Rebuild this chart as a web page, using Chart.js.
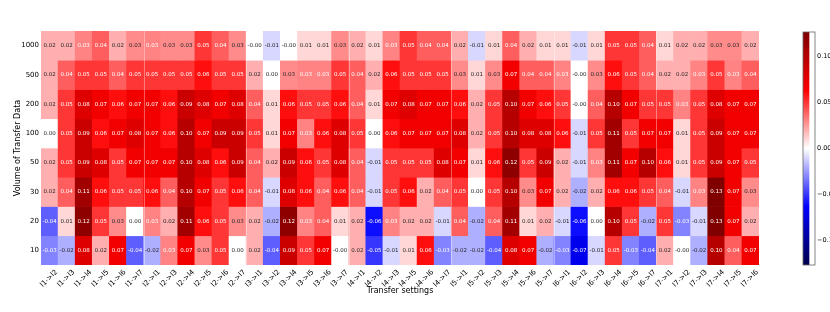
<!DOCTYPE html>
<html><head><meta charset="utf-8">
<script src="https://cdn.jsdelivr.net/npm/chart.js@4/dist/chart.umd.min.js"></script>
<style>
html,body{margin:0;padding:0;background:#fff;overflow:hidden;width:830px;height:312px;}
#main{position:absolute;left:0;top:0;}
#cbar{position:absolute;left:790px;top:0;}
</style></head><body>
<canvas id="main" width="830" height="312"></canvas>
<canvas id="cbar" width="60" height="312"></canvas>
<script>
const rowLabels = ['1000','500','200','100','50','30','20','10'];
const colLabels = [
 'l1->l2','l1->l3','l1->l4','l1->l5','l1->l6','l1->l7',
 'l2->l1','l2->l3','l2->l4','l2->l5','l2->l6','l2->l7',
 'l3->l1','l3->l2','l3->l4','l3->l5','l3->l6','l3->l7',
 'l4->l1','l4->l2','l4->l3','l4->l5','l4->l6','l4->l7',
 'l5->l1','l5->l2','l5->l3','l5->l4','l5->l6','l5->l7',
 'l6->l1','l6->l2','l6->l3','l6->l4','l6->l5','l6->l7',
 'l7->l1','l7->l2','l7->l3','l7->l4','l7->l5','l7->l6'];

const v1000 = [0.02,0.02,0.031,0.04,0.02,0.029, 0.031,0.029,0.029,0.05,0.04,0.029, -0.00,-0.01,-0.00,0.01,0.01,0.029, 0.02,0.01,0.031,0.05,0.04,0.04, 0.02,-0.01,0.01,0.04,0.02,0.01, 0.01,-0.01,0.01,0.05,0.05,0.04, 0.01,0.02,0.02,0.029,0.029,0.02];
const v500  = [0.02,0.04,0.05,0.05,0.04,0.05, 0.05,0.05,0.05,0.06,0.05,0.05, 0.02,0.00,0.029,0.031,0.031,0.05, 0.04,0.02,0.06,0.05,0.05,0.05, 0.029,0.01,0.029,0.07,0.04,0.04, 0.031,-0.00,0.029,0.06,0.05,0.04, 0.02,0.02,0.031,0.05,0.031,0.04];
const v200  = [0.02,0.05,0.08,0.07,0.06,0.07, 0.07,0.06,0.09,0.08,0.07,0.08, 0.04,0.01,0.06,0.05,0.05,0.06, 0.04,0.01,0.07,0.08,0.07,0.07, 0.06,0.02,0.05,0.10,0.07,0.06, 0.05,-0.00,0.04,0.10,0.07,0.05, 0.05,0.031,0.05,0.08,0.07,0.07];
const v100  = [0.00,0.05,0.09,0.06,0.07,0.08, 0.07,0.06,0.10,0.07,0.09,0.09, 0.05,0.01,0.07,0.031,0.06,0.08, 0.05,0.00,0.06,0.07,0.07,0.07, 0.08,0.02,0.05,0.10,0.08,0.08, 0.06,-0.01,0.05,0.11,0.05,0.07, 0.07,0.01,0.05,0.09,0.07,0.07];
const v50   = [0.02,0.05,0.09,0.08,0.05,0.07, 0.07,0.07,0.10,0.08,0.06,0.09, 0.04,0.02,0.09,0.06,0.05,0.08, 0.04,-0.01,0.05,0.05,0.05,0.08, 0.07,0.01,0.06,0.12,0.05,0.09, 0.02,-0.01,0.031,0.11,0.07,0.10, 0.06,0.01,0.05,0.09,0.07,0.05];
const v30   = [0.02,0.04,0.11,0.06,0.05,0.05, 0.06,0.04,0.10,0.07,0.05,0.06, 0.04,-0.01,0.08,0.06,0.04,0.06, 0.04,-0.01,0.05,0.06,0.02,0.04, 0.05,0.00,0.05,0.10,0.029,0.07, 0.02,-0.02,0.02,0.06,0.06,0.05, 0.04,-0.01,0.031,0.13,0.07,0.029];
const v20   = [-0.04,0.01,0.12,0.05,0.029,0.00, 0.031,0.02,0.11,0.06,0.05,0.029, 0.02,-0.02,0.12,0.031,0.04,0.01, 0.02,-0.06,0.031,0.02,0.02,-0.01, 0.04,-0.02,0.04,0.11,0.01,0.02, -0.01,-0.06,0.00,0.10,0.05,-0.02, 0.05,-0.031,-0.01,0.13,0.07,0.02];
const v10   = [-0.031,-0.02,0.08,0.02,0.07,-0.04, -0.02,0.031,0.07,0.029,0.05,0.00, 0.02,-0.04,0.09,0.05,0.07,-0.00, 0.02,-0.05,-0.01,0.01,0.06,-0.031, -0.02,-0.02,-0.04,0.08,0.07,-0.02, -0.031,-0.07,-0.01,0.05,-0.031,-0.04, 0.02,-0.00,-0.02,0.10,0.04,0.07];

const rowValues = [v1000, v500, v200, v100, v50, v30, v20, v10];
const vLimit = 0.127;
const cbarTicks = [-0.10, -0.05, 0.00, 0.05, 0.10];
const groupSize = 6;

Chart.defaults.font.family = 'DejaVu Sans';
Chart.defaults.color = '#000';

function seismic(t){
  const s=[[0,0,0,0.3],[0.25,0,0,1],[0.5,1,1,1],[0.75,1,0,0],[1,0.5,0,0]];
  t=Math.max(0,Math.min(1,t));
  for(let i=0;i<4;i++){
    const a=s[i],b=s[i+1];
    if(t<=b[0]){
      const f=(t-a[0])/(b[0]-a[0]);
      return [a[1]+(b[1]-a[1])*f, a[2]+(b[2]-a[2])*f, a[3]+(b[3]-a[3])*f];
    }
  }
  return [0.5,0,0];
}
function toCss(c){return 'rgb('+c.map(x=>Math.round(x*255)).join(',')+')';}
function colorFor(v){return seismic(0.5+v/(2*vLimit));}
function lum(c){
  const l=c.map(x=> x<=0.03928 ? x/12.92 : Math.pow((x+0.055)/1.055,2.4));
  return 0.2126*l[0]+0.7152*l[1]+0.0722*l[2];
}

const nRows = rowLabels.length;
const datasets = rowValues.map((vals,r)=>({
  label: rowLabels[r],
  data: vals.map(()=>[nRows-1-r, nRows-r]),
  vals: vals,
  backgroundColor: vals.map(v=>toCss(colorFor(v))),
  borderWidth: 0,
  barPercentage: 1,
  categoryPercentage: 1,
  grouped: false
}));

const annot = {
  id:'annot',
  afterDatasetsDraw(chart){
    const ctx=chart.ctx;
    ctx.save();
    const xs=chart.scales.x, ca=chart.chartArea;
    ctx.strokeStyle='rgba(255,255,255,0.35)';
    ctx.lineWidth=1;
    for(let g=groupSize; g<colLabels.length; g+=groupSize){
      const px=Math.round((xs.getPixelForValue(g-1)+xs.getPixelForValue(g))/2)+0.5;
      ctx.beginPath();ctx.moveTo(px,ca.top);ctx.lineTo(px,ca.bottom);ctx.stroke();
    }
    ctx.font='5.5px "DejaVu Sans"';
    ctx.textAlign='center';ctx.textBaseline='middle';
    chart.data.datasets.forEach((ds,di)=>{
      const meta=chart.getDatasetMeta(di);
      meta.data.forEach((el,i)=>{
        const v=ds.vals[i];
        const p=el.getProps(['x','y','base'],true);
        const cy=(p.y+p.base)/2;
        ctx.fillStyle = lum(colorFor(v))>0.408 ? 'rgb(38,38,38)' : '#fff';
        let s=v.toFixed(2);
        if(Object.is(v,-0)) s='-0.00';
        ctx.fillText(s, p.x, cy);
      });
    });
    ctx.restore();
  }
};

new Chart(document.getElementById('main'),{
  type:'bar',
  data:{labels:colLabels, datasets},
  options:{
    responsive:false, animation:false, devicePixelRatio:1,
    layout:{padding:{top:31,right:71,left:13,bottom:16}},
    plugins:{legend:{display:false},tooltip:{enabled:false}},
    scales:{
      x:{
        type:'category',
        grid:{display:false,drawTicks:false},
        border:{display:false},
        ticks:{autoSkip:false,maxRotation:45,minRotation:45,font:{size:7},padding:3,labelOffset:7,color:'#000'},
        title:{display:true,text:'Transfer settings',font:{size:8},padding:0,color:'#000'},
        afterFit(s){s.height=31;}
      },
      y:{
        type:'linear',min:0,max:nRows,
        grid:{display:false,drawTicks:false},
        border:{display:false},
        afterBuildTicks(s){s.ticks=rowLabels.map((l,r)=>({value:nRows-0.5-r}));},
        ticks:{font:{size:7},padding:2,color:'#000',
          callback:(val)=>rowLabels[Math.round(nRows-0.5-val)]},
        title:{display:true,text:'Volume of Transfer Data',font:{size:8},padding:0,color:'#000'},
        afterFit(s){s.width=28;}
      }
    }
  },
  plugins:[annot]
});

const cbOutline={
  id:'cbOutline',
  afterDatasetsDraw(chart){
    const ca=chart.chartArea,ctx=chart.ctx;
    ctx.save();ctx.strokeStyle='#666';ctx.lineWidth=0.8;
    ctx.strokeRect(ca.left,ca.top,ca.right-ca.left,ca.bottom-ca.top);
    ctx.restore();
  }
};

new Chart(document.getElementById('cbar'),{
  type:'bar',
  data:{labels:['cb'],datasets:[{
    data:[[-vLimit,vLimit]],
    borderWidth:0,barPercentage:1,categoryPercentage:1,
    backgroundColor(ctx){
      const ca=ctx.chart.chartArea; if(!ca) return '#fff';
      const g=ctx.chart.ctx.createLinearGradient(0,ca.bottom,0,ca.top);
      for(let i=0;i<=40;i++){g.addColorStop(i/40,toCss(seismic(i/40)));}
      return g;
    }
  }]},
  options:{
    responsive:false,animation:false,devicePixelRatio:1,
    layout:{padding:{top:32,left:13,bottom:47,right:0}},
    plugins:{legend:{display:false},tooltip:{enabled:false}},
    scales:{
      x:{display:false,offset:false},
      y:{
        position:'right',min:-vLimit,max:vLimit,
        grid:{display:false,drawTicks:false},
        border:{display:false},
        afterBuildTicks(s){s.ticks=cbarTicks.map(v=>({value:v}));},
        ticks:{font:{size:6.5},padding:2,color:'#000',
          callback:(v)=> (v<0?'\u2212':'')+Math.abs(v).toFixed(2)},
        afterFit(s){s.width=35;}
      }
    }
  },
  plugins:[cbOutline]
});
</script>
</body></html>
